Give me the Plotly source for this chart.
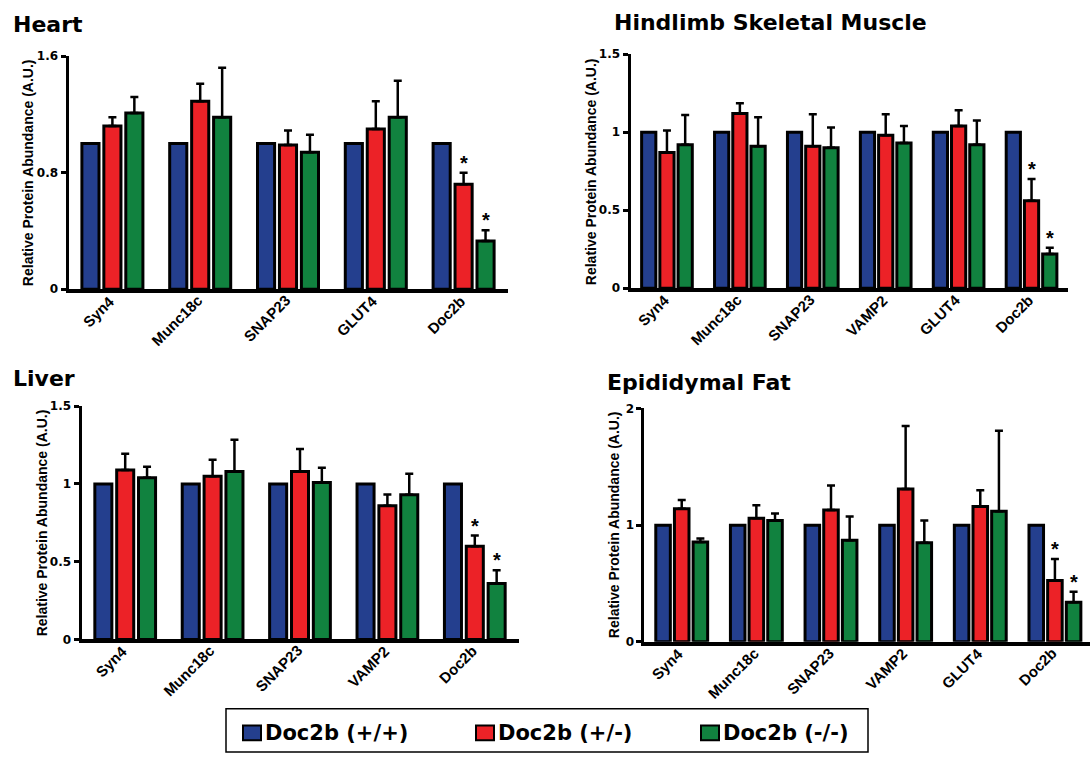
import plotly.graph_objects as go
import numpy as np

# ---- data -------------------------------------------------------------
groups = ["Doc2b (+/+)", "Doc2b (+/-)", "Doc2b (-/-)"]
colors = ["#243F8E", "#EC2227", "#11823F"]

heart_cats = ["Syn4", "Munc18c", "SNAP23", "GLUT4", "Doc2b"]
heart_wt = [1.0, 1.0, 1.0, 1.0, 1.0]
heart_het = [1.12, 1.29, 0.99, 1.10, 0.72]
heart_het_err = [0.06, 0.12, 0.10, 0.19, 0.08]
heart_ko = [1.21, 1.18, 0.94, 1.18, 0.33]
heart_ko_err = [0.11, 0.34, 0.12, 0.25, 0.075]
heart_ticks = [0, 0.8, 1.6]

muscle_cats = ["Syn4", "Munc18c", "SNAP23", "VAMP2", "GLUT4", "Doc2b"]
muscle_wt = [1.0, 1.0, 1.0, 1.0, 1.0, 1.0]
muscle_het = [0.87, 1.12, 0.91, 0.98, 1.04, 0.56]
muscle_het_err = [0.14, 0.065, 0.205, 0.135, 0.10, 0.14]
muscle_ko = [0.92, 0.91, 0.90, 0.93, 0.92, 0.22]
muscle_ko_err = [0.19, 0.185, 0.13, 0.11, 0.155, 0.04]
muscle_ticks = [0, 0.5, 1, 1.5]

liver_cats = ["Syn4", "Munc18c", "SNAP23", "VAMP2", "Doc2b"]
liver_wt = [1.0, 1.0, 1.0, 1.0, 1.0]
liver_het = [1.09, 1.05, 1.08, 0.86, 0.60]
liver_het_err = [0.105, 0.105, 0.145, 0.072, 0.068]
liver_ko = [1.04, 1.08, 1.01, 0.93, 0.36]
liver_ko_err = [0.07, 0.205, 0.095, 0.135, 0.085]
liver_ticks = [0, 0.5, 1, 1.5]

fat_cats = ["Syn4", "Munc18c", "SNAP23", "VAMP2", "GLUT4", "Doc2b"]
fat_wt = [1.0, 1.0, 1.0, 1.0, 1.0, 1.0]
fat_het = [1.14, 1.06, 1.13, 1.31, 1.16, 0.525]
fat_het_err = [0.075, 0.11, 0.21, 0.54, 0.14, 0.185]
fat_ko = [0.855, 1.04, 0.87, 0.85, 1.12, 0.34]
fat_ko_err = [0.03, 0.06, 0.205, 0.19, 0.69, 0.09]
fat_ticks = [0, 1, 2]

# category marked significant in each panel
sig_cat = "Doc2b"

# ---- layout helpers --------------------------------------------------
W, H = 1090, 760
BOLD_WIDE = "DejaVu Sans"
BOLD_NARROW = "Liberation Sans"


def px_x(p):
    return p / W


def px_y(p):
    return 1 - p / H


panels = [
    dict(title="Heart", cats=heart_cats, wt=heart_wt, het=heart_het, het_err=heart_het_err,
         ko=heart_ko, ko_err=heart_ko_err, ticks=heart_ticks, ymax=1.6, xr=None,
         dom_x=(68.5, 507.5), dom_y=(50, 287.5), title_xy=(11, 18), ylab_x=27.5),
    dict(title="Hindlimb Skeletal Muscle", cats=muscle_cats, wt=muscle_wt, het=muscle_het,
         het_err=muscle_het_err, ko=muscle_ko, ko_err=muscle_ko_err, ticks=muscle_ticks,
         ymax=1.5, xr=None, dom_x=(630.5, 1068), dom_y=(48, 286.5), title_xy=(612, 16),
         ylab_x=591),
    dict(title="Liver", cats=liver_cats, wt=liver_wt, het=liver_het, het_err=liver_het_err,
         ko=liver_ko, ko_err=liver_ko_err, ticks=liver_ticks, ymax=1.5, xr=None,
         dom_x=(81.5, 518.5), dom_y=(406.7, 644.3), title_xy=(11, 378), ylab_x=41.5),
    dict(title="Epididymal Fat", cats=fat_cats, wt=fat_wt, het=fat_het, het_err=fat_het_err,
         ko=fat_ko, ko_err=fat_ko_err, ticks=fat_ticks, ymax=2.0, xr=(-0.5, 5.47),
         dom_x=(644.4, 1090), dom_y=(409, 646.7), title_xy=(605, 383), ylab_x=614),
]

OFFSETS = [-0.25, 0.0, 0.25]
BAR_W = 0.195

fig = go.Figure()
annotations = []
layout_axes = {}

for i, p in enumerate(panels):
    n = i + 1
    xa = "x" if n == 1 else f"x{n}"
    ya = "y" if n == 1 else f"y{n}"
    idx = np.arange(len(p["cats"]))

    series = [(p["wt"], None), (p["het"], p["het_err"]), (p["ko"], p["ko_err"])]
    for k, (vals, err) in enumerate(series):
        err_cfg = dict(visible=False)
        if err is not None:
            err_cfg = dict(type="data", symmetric=False, array=err,
                           arrayminus=[0] * len(err), color="black",
                           thickness=2.5, width=4, visible=True)
        fig.add_trace(go.Bar(
            x=idx + OFFSETS[k], y=vals, width=BAR_W, name=groups[k],
            marker=dict(color=colors[k], line=dict(color="black", width=3)),
            error_y=err_cfg, xaxis=xa, yaxis=ya, showlegend=False,
            hoverinfo="skip",
        ))

    # significance markers above the knockout bars
    j = p["cats"].index(sig_cat)
    for k, vals, err in [(1, p["het"], p["het_err"]), (2, p["ko"], p["ko_err"])]:
        annotations.append(dict(
            x=j + OFFSETS[k], y=vals[j] + err[j], xref=xa, yref=ya,
            text="<b>*</b>", showarrow=False, yanchor="bottom", yshift=-3,
            font=dict(family=BOLD_NARROW, size=20, color="black"),
        ))

    # slanted category labels, ending just under each bar group
    for c_i, c in enumerate(p["cats"]):
        annotations.append(dict(
            x=c_i, y=0, xref=xa, yref=ya, text=f"<b>{c}</b>", showarrow=False,
            textangle=-45, xanchor="right", yanchor="top", xshift=8, yshift=0,
            font=dict(family=BOLD_NARROW, size=15, color="black"),
        ))

    xr = p["xr"] if p["xr"] else (-0.5, len(p["cats"]) - 0.5)
    key_x = "xaxis" if n == 1 else f"xaxis{n}"
    key_y = "yaxis" if n == 1 else f"yaxis{n}"
    layout_axes[key_x] = dict(
        domain=[px_x(p["dom_x"][0]), px_x(p["dom_x"][1])], anchor=ya,
        range=list(xr), tickmode="array", tickvals=list(idx),
        showticklabels=False, showline=True, linecolor="black", linewidth=3.5,
        ticks="", showgrid=False, zeroline=False, fixedrange=True,
    )
    layout_axes[key_y] = dict(
        domain=[px_y(p["dom_y"][1]), px_y(p["dom_y"][0])], anchor=xa,
        range=[0, p["ymax"]], tickmode="array", tickvals=p["ticks"],
        ticktext=[f"<b>{t:g}</b>" for t in p["ticks"]],
        showline=True, linecolor="black", linewidth=3, ticks="outside",
        ticklen=5, tickwidth=2.5, tickcolor="black", showgrid=False,
        zeroline=False, fixedrange=True,
        tickfont=dict(family=BOLD_WIDE, size=12, color="black"),
    )

    # panel title
    annotations.append(dict(
        x=px_x(p["title_xy"][0]), y=px_y(p["title_xy"][1]), xref="paper", yref="paper",
        text=f"<b>{p['title']}</b>", showarrow=False, xanchor="left", yanchor="middle",
        font=dict(family=BOLD_WIDE, size=22, color="black"),
    ))
    # y-axis title
    annotations.append(dict(
        x=px_x(p["ylab_x"]), y=px_y((p["dom_y"][0] + p["dom_y"][1]) / 2),
        xref="paper", yref="paper", text="<b>Relative Protein Abundance (A.U.)</b>",
        showarrow=False, textangle=-90, xanchor="center", yanchor="middle",
        font=dict(family=BOLD_NARROW, size=14, color="black"),
    ))

# ---- legend box -------------------------------------------------------
shapes = [dict(type="rect", xref="paper", yref="paper",
               x0=px_x(226), x1=px_x(868), y0=px_y(759), y1=px_y(715),
               line=dict(color="black", width=1.5), fillcolor="rgba(0,0,0,0)")]
legend_sq_x = [243, 476, 701]
for k, g in enumerate(groups):
    x0 = legend_sq_x[k]
    shapes.append(dict(type="rect", xref="paper", yref="paper",
                       x0=px_x(x0), x1=px_x(x0 + 18), y0=px_y(747), y1=px_y(732),
                       line=dict(color="black", width=2), fillcolor=colors[k]))
    annotations.append(dict(
        x=px_x(x0 + 20), y=px_y(740), xref="paper", yref="paper",
        text=f"<b>{g}</b>", showarrow=False, xanchor="left", yanchor="middle",
        font=dict(family=BOLD_WIDE, size=21, color="black"),
    ))

fig.update_layout(
    width=W, height=H, margin=dict(l=0, r=0, t=0, b=0),
    paper_bgcolor="white", plot_bgcolor="white",
    barmode="overlay", showlegend=False,
    annotations=annotations, shapes=shapes, **layout_axes,
)

fig.write_html("out.html", config={"displayModeBar": False})
